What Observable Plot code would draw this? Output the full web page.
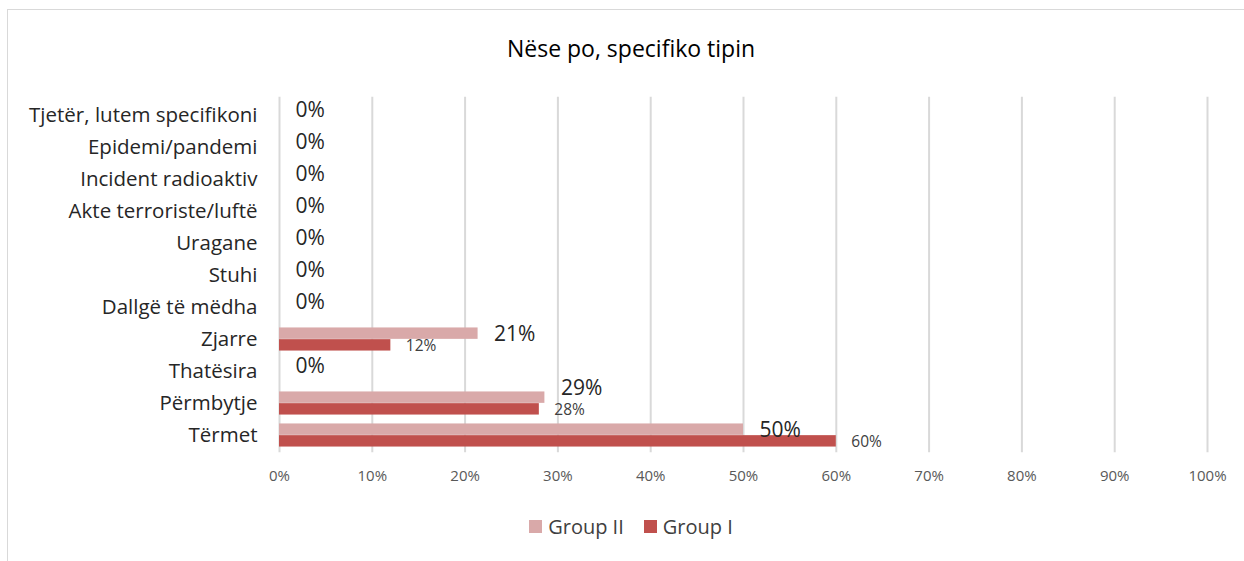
<!DOCTYPE html>
<html>
<head>
<meta charset="utf-8">
<script src="https://cdn.jsdelivr.net/npm/d3@7"></script>
<script src="https://cdn.jsdelivr.net/npm/@observablehq/plot@0.6"></script>
<style>
  body { margin: 0; background: #fff; font-family: "Open Sans", "Noto Sans", sans-serif; }
  #wrap { position: relative; width: 1244px; height: 561px; overflow: hidden; }
  #frame { position: absolute; left: 7px; top: 9px; width: 1250px; height: 570px; border: 1px solid #D9D9D9; box-sizing: border-box; }
  #title { position: absolute; left: 0; top: 32px; width: 1262px; text-align: center; font-size: 23px; color: #000; }
  #chart { position: absolute; left: 0; top: 70px; line-height: 0; }
  #legend { position: absolute; top: 513px; left: 0; width: 1262px; display: flex; justify-content: center; gap: 20px; font-size: 20px; color: #404040; }
  .item { display: flex; align-items: center; gap: 6px; }
  .sw { width: 13px; height: 13px; display: inline-block; }
</style>
</head>
<body>
<div id="wrap">
  <div id="frame"></div>
  <div id="title">Nëse po, specifiko tipin</div>
  <div id="chart"></div>
  <div id="legend"></div>
</div>
<script>
const categories = [
  "Tjetër, lutem specifikoni",
  "Epidemi/pandemi",
  "Incident radioaktiv",
  "Akte terroriste/luftë",
  "Uragane",
  "Stuhi",
  "Dallgë të mëdha",
  "Zjarre",
  "Thatësira",
  "Përmbytje",
  "Tërmet"
];
const groupII = [0, 0, 0, 0, 0, 0, 0, 0.214, 0, 0.286, 0.50];
const groupI  = [0, 0, 0, 0, 0, 0, 0, 0.12, 0, 0.28, 0.60];
const xTicks = [0, 0.1, 0.2, 0.3, 0.4, 0.5, 0.6, 0.7, 0.8, 0.9, 1.0];
const seriesNames = ["Group II", "Group I"];
const colors = ["#D9A9A9", "#C0504D"];

const dII = categories.map((c, i) => ({cat: c, v: groupII[i]}));
const dI = categories.map((c, i) => ({cat: c, v: groupI[i]}));
const pct = v => Math.round(v * 100) + "%";
const raised = "Përmbytje";

const font = "'Open Sans', 'Noto Sans', sans-serif";
const plot = Plot.plot({
  width: 1244,
  height: 425,
  marginLeft: 279,
  marginRight: 37,
  marginTop: 26.7,
  marginBottom: 42.7,
  style: { fontFamily: font, background: "transparent" },
  x: { domain: [0, 1], ticks: xTicks, tickFormat: d => Math.round(d * 100) + "%" },
  y: { domain: categories, padding: 0 },
  marks: [
    Plot.ruleX(xTicks, { stroke: "#D9D9D9", strokeWidth: 2 }),
    Plot.barX(dII, { x: "v", y: "cat", fill: colors[0], insetTop: 4.45, insetBottom: 16.15 }),
    Plot.barX(dI, { x: "v", y: "cat", fill: colors[1], insetTop: 16.15, insetBottom: 4.45 }),
    Plot.text(dII.filter(d => d.cat !== raised), { x: "v", y: "cat", text: d => pct(d.v), dx: 16, dy: -5, textAnchor: "start", fontSize: 21, fill: "#262626" }),
    Plot.text(dII.filter(d => d.cat === raised), { x: "v", y: "cat", text: d => pct(d.v), dx: 16, dy: -15, textAnchor: "start", fontSize: 21, fill: "#262626" }),
    Plot.text(dI.filter(d => d.v > 0), { x: "v", y: "cat", text: d => pct(d.v), dx: 15, dy: 7, textAnchor: "start", fontSize: 15.5, fill: "#404040" }),
    Plot.axisX({ ticks: xTicks, tickFormat: d => Math.round(d * 100) + "%", tickSize: 0, tickPadding: 18, fontSize: 15, fill: "#595959", label: null }),
    Plot.axisY({ tickSize: 0, tickPadding: 22, fontSize: 20.5, fill: "#262626", label: null })
  ]
});
document.getElementById("chart").appendChild(plot);

const legend = document.getElementById("legend");
seriesNames.forEach((n, i) => {
  const it = document.createElement("div");
  it.className = "item";
  it.innerHTML = `<span class="sw" style="background:${colors[i]}"></span><span>${n}</span>`;
  legend.appendChild(it);
});
</script>
</body>
</html>
